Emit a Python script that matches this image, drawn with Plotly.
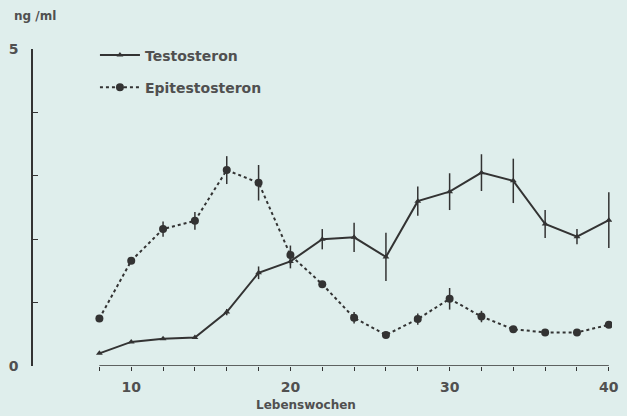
import plotly.graph_objects as go

weeks = [8, 10, 12, 14, 16, 18, 20, 22, 24, 26, 28, 30, 32, 34, 36, 38, 40]
testosteron = [0.20, 0.38, 0.43, 0.45, 0.85, 1.47, 1.65, 2.00, 2.03, 1.72, 2.60, 2.75, 3.05, 2.92, 2.24, 2.04, 2.30]
testosteron_err = [0, 0, 0, 0, 0.05, 0.10, 0.11, 0.16, 0.23, 0.38, 0.23, 0.29, 0.29, 0.35, 0.22, 0.12, 0.44]
epitestosteron = [0.75, 1.66, 2.16, 2.29, 3.09, 2.89, 1.75, 1.29, 0.76, 0.49, 0.74, 1.06, 0.78, 0.58, 0.53, 0.53, 0.65]
epitestosteron_err = [0, 0, 0.12, 0.14, 0.22, 0.28, 0.15, 0, 0.09, 0, 0.09, 0.17, 0.09, 0, 0, 0, 0]

x_tickvals = list(range(8, 41, 2))
x_ticktext = [str(v) if v % 10 == 0 else "" for v in x_tickvals]
y_tickvals = [0, 1, 2, 3, 4, 5]
y_ticktext = ["0", "", "", "", "", "5"]

ink = "#333333"
txt = "#505050"
bg = "#dfeeec"
font = dict(family="DejaVu Sans, sans-serif", color=txt, size=14, weight="bold")

fig = go.Figure()
fig.add_trace(go.Scatter(
    x=weeks, y=testosteron, name="Testosteron", mode="lines+markers",
    line=dict(color=ink, width=2),
    marker=dict(symbol="triangle-up", size=6, color=ink),
    error_y=dict(type="data", array=testosteron_err, visible=True, width=0, thickness=1.5, color=ink),
    legendgroup="t",
))
fig.add_trace(go.Scatter(
    x=weeks, y=epitestosteron, name="Epitestosteron", mode="lines+markers",
    line=dict(color=ink, width=2, dash="dot"),
    marker=dict(symbol="circle", size=8, color=ink),
    error_y=dict(type="data", array=epitestosteron_err, visible=True, width=0, thickness=1.5, color=ink),
    legendgroup="e",
))

# x-axis baseline from week 8 to 40
fig.add_shape(type="line", xref="x", yref="y", x0=weeks[0], x1=weeks[-1], y0=0, y1=0,
              line=dict(color=ink, width=1.5))

fig.update_layout(
    width=627, height=416,
    margin=dict(l=33, r=15, t=49, b=50),
    paper_bgcolor=bg, plot_bgcolor=bg,
    font=font,
    showlegend=True,
    legend=dict(x=0.107, y=1.03, xanchor="left", yanchor="top", bgcolor="rgba(0,0,0,0)",
                font=dict(size=14, color=txt), tracegroupgap=11, itemwidth=40),
    xaxis=dict(range=[3.83, 40.2], showgrid=False, zeroline=False, showline=False, automargin=False,
               tickvals=x_tickvals, ticktext=x_ticktext, ticks="outside", ticklen=4,
               tickcolor=ink, tickwidth=1.2, ticklabelstandoff=4),
    yaxis=dict(range=[0, 5], showgrid=False, zeroline=False, showline=True, linecolor=ink, linewidth=1.5,
               automargin=False,
               tickvals=y_tickvals, ticktext=y_ticktext, ticks="inside", ticklen=5,
               tickcolor=ink, tickwidth=1.2, ticklabelstandoff=10),
    annotations=[
        dict(text="ng /ml", xref="paper", yref="paper", x=-0.037, y=1.105,
             xanchor="left", yanchor="middle", showarrow=False, font=dict(size=12)),
        dict(text="Lebenswochen", xref="paper", yref="paper", x=0.472, y=-0.122,
             xanchor="center", yanchor="middle", showarrow=False, font=dict(size=12)),
    ],
)

fig.write_html("out.html", config={"displayModeBar": False},
               post_script="document.body.style.margin='0';document.body.style.background='%s';" % bg)
